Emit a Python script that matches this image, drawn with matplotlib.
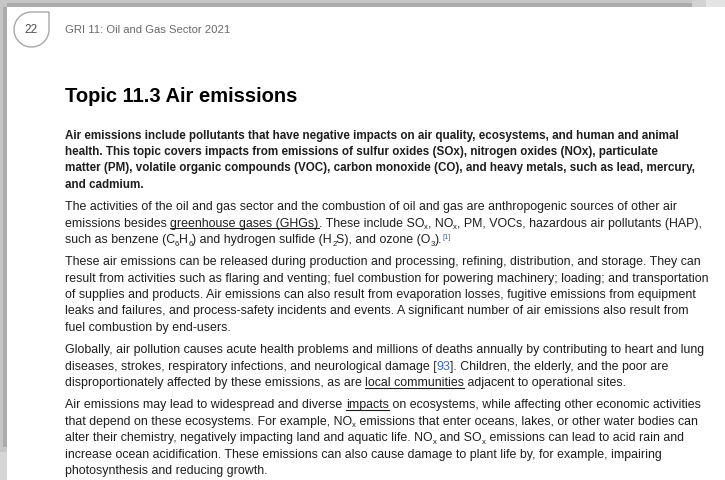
import re
import numpy as np
import matplotlib
matplotlib.use("Agg")
import matplotlib.pyplot as plt
from matplotlib.patches import Rectangle, PathPatch
from matplotlib.path import Path

# page text (markup: _{..} subscript, ^{..} superscript link, <u>..</u> underline, <a>..</a> link)
page_number = "22"
header = "GRI 11: Oil and Gas Sector 2021"
title = "Topic 11.3 Air emissions"

para_intro = [
    "Air emissions include pollutants that have negative impacts on air quality, ecosystems, and human and animal",
    "health. This topic covers impacts from emissions of sulfur oxides (SOx), nitrogen oxides (NOx), particulate",
    "matter (PM), volatile organic compounds (VOC), carbon monoxide (CO), and heavy metals, such as lead, mercury,",
    "and cadmium.",
]
para_sources = [
    "The activities of the oil and gas sector and the combustion of oil and gas are anthropogenic sources of other air",
    "emissions besides <u>greenhouse gases (GHGs)</u>. These include SO_{x}, NO_{x}, PM, VOCs, hazardous air pollutants (HAP),",
    "such as benzene (C_{6}H_{6}) and hydrogen sulfide (H_{2}S), and ozone (O_{3}).^{[1]}",
]
para_release = [
    "These air emissions can be released during production and processing, refining, distribution, and storage. They can",
    "result from activities such as flaring and venting; fuel combustion for powering machinery; loading; and transportation",
    "of supplies and products. Air emissions can also result from evaporation losses, fugitive emissions from equipment",
    "leaks and failures, and process-safety incidents and events. A significant number of air emissions also result from",
    "fuel combustion by end-users.",
]
para_health = [
    "Globally, air pollution causes acute health problems and millions of deaths annually by contributing to heart and lung",
    "diseases, strokes, respiratory infections, and neurological damage [<a>93</a>]. Children, the elderly, and the poor are",
    "disproportionately affected by these emissions, as are <u>local communities</u> adjacent to operational sites.",
]
para_ecosystems = [
    "Air emissions may lead to widespread and diverse <u>impacts</u> on ecosystems, while affecting other economic activities",
    "that depend on these ecosystems. For example, NO_{x} emissions that enter oceans, lakes, or other water bodies can",
    "alter their chemistry, negatively impacting land and aquatic life. NO_{x} and SO_{x} emissions can lead to acid rain and",
    "increase ocean acidification. These emissions can also cause damage to plant life by, for example, impairing",
    "photosynthesis and reducing growth.",
]
paragraphs = [para_intro, para_sources, para_release, para_health, para_ecosystems]
para_bold = [True, False, False, False, False]

FONT = "Liberation Sans"
TEXT = "#1e1e1e"
GREY = "#6a6a6a"
LINK = "#3d6db5"

W, H = 725, 480
fig = plt.figure(figsize=(7.25, 4.8), dpi=100)
ax = fig.add_axes([0, 0, 1, 1])
ax.set_xlim(0, W)
ax.set_ylim(H, 0)
ax.axis("off")
renderer = fig.canvas.get_renderer()


def text_width(s, size, weight="normal"):
    # measure with bars on both sides so spaces count
    t = ax.text(0, 0, "|" + s + "|", fontsize=size, family=FONT, fontweight=weight)
    w = t.get_window_extent(renderer).width
    t.remove()
    t = ax.text(0, 0, "||", fontsize=size, family=FONT, fontweight=weight)
    w0 = t.get_window_extent(renderer).width
    t.remove()
    return w - w0


def plain(line):
    return re.sub(r"<\/?[ua]>|[_^]\{|\}", "", line)


def draw_line(x, y, line, size, weight, color):
    parts = re.split(r"(_\{.*?\}|\^\{.*?\}|<u>.*?</u>|<a>.*?</a>)", line)
    for part in parts:
        if not part:
            continue
        sz, dy, col, under = size, 0, color, False
        if part.startswith("_{"):
            s, sz, dy = part[2:-1], size * 0.62, 2.6
        elif part.startswith("^{"):
            s, sz, dy, col = part[2:-1], size * 0.62, -4.2, LINK
        elif part.startswith("<u>"):
            s, under = part[3:-4], True
        elif part.startswith("<a>"):
            s, col = part[3:-4], LINK
        else:
            s = part
        ax.text(x, y + dy, s, fontsize=sz, family=FONT, fontweight=weight,
                color=col, va="baseline", ha="left")
        w = text_width(s, sz, weight)
        if under:
            ax.plot([x, x + w], [y + 1.8, y + 1.8], color=col, lw=0.8)
        x += w


# page shadow along top and left edge
ax.add_patch(Rectangle((0, 0), W, 7, color="#c6c6c6", lw=0))
ax.add_patch(Rectangle((7, 3), 685, 4, color="#acacac", lw=0))
ax.add_patch(Rectangle((692, 0), 14, 7, color="#d2d2d2", lw=0))
ax.add_patch(Rectangle((706, 0), 19, 7, color="#e4e4e4", lw=0))
ax.add_patch(Rectangle((0, 0), 7, H, color="#c6c6c6", lw=0))
ax.add_patch(Rectangle((3, 7), 4, 440, color="#acacac", lw=0))
ax.add_patch(Rectangle((0, 452), 7, 28, color="#d6d6d6", lw=0))

# page number badge: circle with a square top-right corner
cx, cy, r = 31.5, 29.5, 17.5
theta = np.linspace(0, 1.5 * np.pi, 60)
pts = [(cx + r, cy - r)] + list(zip(cx + r * np.cos(theta), cy + r * np.sin(theta))) + [(cx + r, cy - r)]
ax.add_patch(PathPatch(Path(pts), facecolor="white", edgecolor="#a8a8a8", lw=1.0))
ax.text(cx, cy + 0.5, page_number, fontsize=8.6, family=FONT, color="#505050",
        ha="center", va="center")

# header and title, sizes fitted to the page widths
x0 = 65
hdr_size = 8.0 * 165 / text_width(header, 8.0)
ax.text(x0, 33, header, fontsize=hdr_size, family=FONT, color=GREY, va="baseline")
title_size = 16.0 * 233 / text_width(title, 16.0, "bold")
ax.text(x0, 101.5, title, fontsize=title_size, family=FONT, fontweight="bold",
        color="#000000", va="baseline")

bold_ref = (text_width(plain(para_intro[0]), 8.0, "bold")
            + text_width(plain(para_intro[2]), 8.0, "bold")) / 2
bold_size = 8.0 * 622 / bold_ref
body_size = 8.0 * 636 / text_width(plain(para_release[0]), 8.0)

line_step = 16.4
para_gap = 6.0
y = 138.5
for lines, bold in zip(paragraphs, para_bold):
    for line in lines:
        if bold:
            draw_line(x0, y, line, bold_size, "bold", TEXT)
        else:
            draw_line(x0, y, line, body_size, "normal", TEXT)
        y += line_step
    y += para_gap

fig.savefig("out.png", dpi=100, facecolor="white")
